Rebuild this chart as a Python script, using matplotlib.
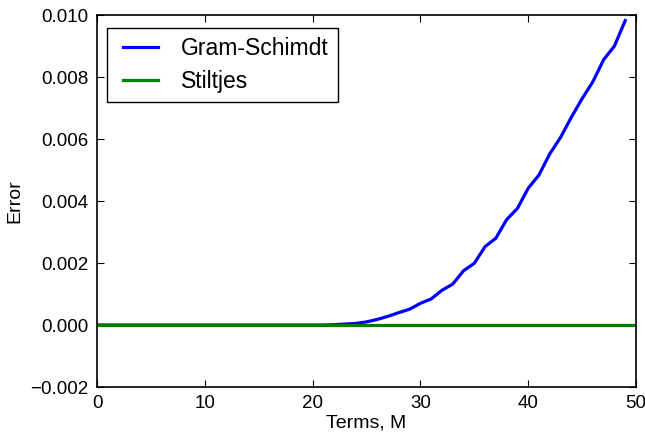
import numpy as np
import matplotlib
matplotlib.use("Agg")
import matplotlib.pyplot as plt
from matplotlib.legend_handler import HandlerLine2D

# Approximation error versus number of terms
terms_gs = list(range(0, 50))
error_gs = [0.0] * 22 + [
    0.00001, 0.00003, 0.00005, 0.00010, 0.00018, 0.00028, 0.00040, 0.00051,
    0.00070, 0.00084, 0.00112, 0.00132, 0.00175, 0.00199, 0.00253, 0.00280,
    0.00340, 0.00376, 0.00441, 0.00484, 0.00552, 0.00605, 0.00670, 0.00730,
    0.00785, 0.00856, 0.00900, 0.00982,
]
terms_st = list(range(0, 51))
error_st = [0.0] * 51

xticks = [0, 10, 20, 30, 40, 50]
yticks = [-0.002, 0.000, 0.002, 0.004, 0.006, 0.008, 0.010]


class InsetLine(HandlerLine2D):
    """Legend line handle that starts a little to the right of its box."""

    def __init__(self, inset, **kw):
        super().__init__(**kw)
        self.inset = inset

    def create_artists(self, legend, orig_handle, xdescent, ydescent,
                       width, height, fontsize, trans):
        artists = super().create_artists(legend, orig_handle, xdescent,
                                         ydescent, width, height, fontsize,
                                         trans)
        line = artists[0]
        x = np.asarray(line.get_xdata(), dtype=float)
        line.set_xdata([x[0] + self.inset, x[-1]])
        line.set_ydata([line.get_ydata()[0]] * 2)
        return artists


plt.rcParams['font.family'] = ['Liberation Sans', 'DejaVu Sans']

fig = plt.figure(figsize=(6.45, 4.34), dpi=100)
ax = fig.add_axes([97 / 645, 1 - 387 / 434, (636 - 97) / 645, (387 - 15) / 434])

l1, = ax.plot(terms_gs, error_gs, color='blue', lw=2.3, label='Gram-Schimdt')
l2, = ax.plot(terms_st, error_st, color='green', lw=2.3, label='Stiltjes')

ax.set_xlim(0, 50)
ax.set_ylim(-0.002, 0.010)
ax.set_xticks(xticks)
ax.set_yticks(yticks)
ax.set_yticklabels([f"{v:.3f}".replace('-', '\u2212') for v in yticks])
ax.tick_params(direction='in', top=True, right=True, length=5, width=0.8,
               labelsize=13.5, pad=6, colors='black')
for s in ax.spines.values():
    s.set_linewidth(1.2)

ax.set_xlabel('Terms, M', fontsize=14)
ax.set_ylabel('Error', fontsize=14)
ax.xaxis.set_label_coords(0.5, -0.075)
ax.yaxis.set_label_coords(-0.137, 0.5)

handler = InsetLine(inset=5.0)
leg = ax.legend(loc='upper left', bbox_to_anchor=(0.0186, 0.965),
                borderaxespad=0, fontsize=16.5, fancybox=False,
                handlelength=1.83, handletextpad=1.0, borderpad=0.4,
                labelspacing=0.43, framealpha=1,
                handler_map={l1: handler, l2: handler})
leg.get_frame().set_edgecolor('black')
leg.get_frame().set_linewidth(1.0)

fig.savefig('out.png', dpi=100, facecolor='white')
